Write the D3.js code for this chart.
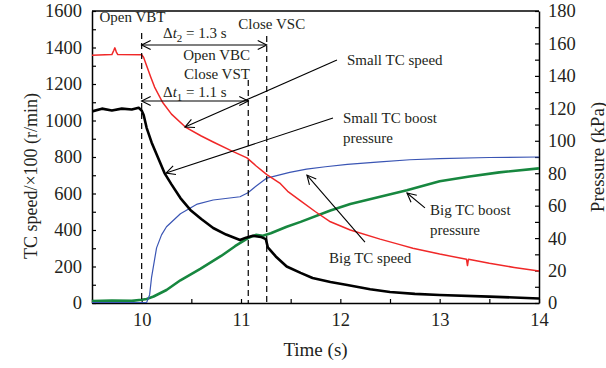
<!DOCTYPE html>
<html><head><meta charset="utf-8">
<script src="https://cdn.jsdelivr.net/npm/d3@7"></script>
<style>
body{margin:0;background:#fff}
svg{display:block}
text{font-family:"Liberation Serif","Times New Roman",serif;fill:#231f20}
</style>
</head><body>
<svg id="c" width="606" height="368"></svg>
<script>
// ---- data ----
const xTickValues = [9.5,10,10.5,11,11.5,12,12.5,13,13.5,14];
const xTickLabels = [10,11,12,13,14];
const leftTickValues = d3.range(0,1601,100);
const leftTickLabels = [0,200,400,600,800,1000,1200,1400,1600];
const rightTickValues = d3.range(0,181,10);
const rightTickLabels = [0,20,40,60,80,100,120,140,160,180];

// red curve (left axis, r/min x100)
const redT = [9.5,9.7,9.72,9.73,9.745,9.76,10.0,10.02,10.05,10.09,10.13,10.21,10.3,10.44,10.6,10.72,10.9,11.06,11.15,11.26,11.39,11.47,11.6,11.75,11.9,12.1,12.4,12.6,12.73,13.0,13.27,13.28,13.29,13.5,13.75,14.0];
const redV = [1358,1361,1385,1398,1375,1361,1360,1345,1300,1240,1183,1100,1035,964,915,882,835,795,752,703,657,612,560,500,445,400,350,320,300,268,240,205,240,218,195,175];

// black curve (left axis)
const blackT = [9.5,9.6,9.7,9.8,9.9,9.97,10.0,10.02,10.05,10.1,10.15,10.23,10.3,10.39,10.49,10.6,10.72,10.85,10.99,11.05,11.12,11.2,11.25,11.27,11.35,11.46,11.6,11.72,11.9,12.07,12.3,12.5,12.75,13.0,13.5,14.0];
const blackV = [1050,1065,1055,1065,1060,1070,1055,1030,960,880,815,712,650,575,510,460,411,375,345,358,368,362,350,305,255,200,165,137,115,99,75,60,50,44,35,25];

// blue curve (right axis, kPa)
const blueT = [9.5,10.05,10.08,10.1,10.15,10.2,10.25,10.39,10.56,10.72,10.99,11.07,11.15,11.26,11.39,11.49,11.66,11.85,12.07,12.4,12.7,13.0,13.5,14.0];
const blueV = [0.3,0.3,5,16,34,42,47,55,61,63.5,65.5,68,72,77,79,80.5,82.5,84,85.5,87,88.3,89,89.7,90];

// green curve (right axis, kPa)
const greenT = [9.5,9.7,9.9,10.0,10.05,10.12,10.25,10.39,10.59,10.8,10.94,11.07,11.15,11.22,11.3,11.46,11.6,11.9,12.1,12.4,12.67,13.0,13.3,13.6,14.0];
const greenV = [1.2,1.5,1.3,2,2.5,4,8,14,21,29,35,40,42,41.5,43,47,50,57,61,65.5,69.5,75,78,80.5,83];

// event times
const tOpen = 10.0, tVST = 11.073, tVSC = 11.259;

// ---- drawing ----
const svg = d3.select("#c");
const L = 92, R = 539, T = 11, B = 303;
const x = d3.scaleLinear().domain([9.5,14]).range([L,R]);
const yL = d3.scaleLinear().domain([0,1600]).range([B,T]);
const yR = d3.scaleLinear().domain([0,180]).range([B,T]);

const defs = svg.append("defs");
defs.append("marker").attr("id","ah").attr("viewBox","-10 -6 12 12")
  .attr("refX",0).attr("refY",0).attr("markerWidth",12).attr("markerHeight",12)
  .attr("markerUnits","userSpaceOnUse").attr("orient","auto-start-reverse")
  .append("path").attr("d","M-9,-4.5 L0,0 L-9,4.5").attr("fill","none").attr("stroke","#000").attr("stroke-width",1.1);
defs.append("clipPath").attr("id","clip").append("rect").attr("x",L).attr("y",T).attr("width",R-L).attr("height",B-T);

const FS = 18.5;
function styleAxis(g){
  g.selectAll("text").style("font-size",FS+"px").attr("fill","#231f20");
  g.selectAll("line").attr("stroke","#000").attr("stroke-width",1.2);
  g.select(".domain").attr("stroke","#000").attr("stroke-width",1.5);
}
const gx = svg.append("g").attr("transform",`translate(0,${B})`)
  .call(d3.axisBottom(x).tickValues(xTickValues).tickSizeInner(-4).tickSizeOuter(0).tickPadding(10)
    .tickFormat(d=>xTickLabels.includes(d)?d3.format("d")(d):""));
styleAxis(gx);
const gl = svg.append("g").attr("transform",`translate(${L},0)`)
  .call(d3.axisLeft(yL).tickValues(leftTickValues).tickSizeInner(-4).tickSizeOuter(0).tickPadding(10)
    .tickFormat(d=>leftTickLabels.includes(d)?d:""));
styleAxis(gl);
const gr = svg.append("g").attr("transform",`translate(${R},0)`)
  .call(d3.axisRight(yR).tickValues(rightTickValues).tickSizeInner(-4).tickSizeOuter(0).tickPadding(9)
    .tickFormat(d=>rightTickLabels.includes(d)?d:""));
styleAxis(gr);
svg.append("line").attr("x1",L).attr("x2",R).attr("y1",T).attr("y2",T).attr("stroke","#000").attr("stroke-width",1.5);

// axis titles
svg.append("text").attr("transform",`translate(31,176) rotate(-90)`)
  .attr("text-anchor","middle").attr("dominant-baseline","central").style("font-size","18px")
  .text("TC speed/×100 (r/min)");
svg.append("text").attr("transform",`translate(597,157) rotate(-90)`)
  .attr("text-anchor","middle").attr("dominant-baseline","central").style("font-size","19px")
  .text("Pressure (kPa)");
svg.append("text").attr("x",(L+R)/2).attr("y",356).attr("text-anchor","middle").style("font-size","19px")
  .text("Time (s)");

// curves
const plot = svg.append("g").attr("clip-path","url(#clip)");
function curve(ts, vs, ys, color, w){
  const pts = ts.map((t,i)=>[t,vs[i]]);
  plot.append("path").datum(pts)
    .attr("d", d3.line().x(d=>x(d[0])).y(d=>ys(d[1])))
    .attr("fill","none").attr("stroke",color).attr("stroke-width",w).attr("stroke-linejoin","round");
}
curve(greenT, greenV, yR, "#17873f", 2.6);
curve(blueT, blueV, yR, "#3a55b4", 1.2);
curve(redT, redV, yL, "#f02828", 1.5);
curve(blackT, blackV, yL, "#000", 2.6);

// dashed event lines
function vdash(t, vTop){
  svg.append("line").attr("x1",x(t)).attr("x2",x(t)).attr("y1",yL(vTop)).attr("y2",B)
    .attr("stroke","#000").attr("stroke-width",1.2).attr("stroke-dasharray","6,4");
}
vdash(tOpen, 1480); vdash(tVST, 1222); vdash(tVSC, 1463);

function arrow(t1,v1,t2,v2,both){
  const l = svg.append("line").attr("x1",x(t1)).attr("y1",yL(v1)).attr("x2",x(t2)).attr("y2",yL(v2))
    .attr("stroke","#000").attr("stroke-width",1.1).attr("marker-end","url(#ah)");
  if(both) l.attr("marker-start","url(#ah)");
}
function label(t,v,str,size){
  return svg.append("text").attr("x",x(t)).attr("y",yL(v)).style("font-size",(size||15)+"px").text(str);
}
function dtLabel(t,v,sub,val){
  const tx = svg.append("text").attr("x",x(t)).attr("y",yL(v)).style("font-size","15px");
  tx.append("tspan").text("Δ");
  tx.append("tspan").style("font-style","italic").text("t");
  tx.append("tspan").attr("dy",4).style("font-size","11px").text(sub);
  tx.append("tspan").attr("dy",-4).text(" = " + val + " s");
}

// top annotations
label(9.575,1540,"Open VBT");
label(10.973,1501,"Close VSC");
dtLabel(10.215,1452,"2","1.3");
arrow(tOpen,1414,tVSC,1414,true);
label(10.419,1332,"Open VBC");
label(10.426,1227,"Close VST");
dtLabel(10.215,1129,"1","1.1");
arrow(tOpen,1107,tVST,1107,true);

// curve annotations
label(12.067,1304,"Small TC speed");
arrow(11.966,1332,10.436,964);
label(12.027,986,"Small TC boost");
label(12.027,877,"pressure");
arrow(11.926,1014,10.245,712);
label(11.886,219,"Big TC speed");
arrow(12.248,334,11.664,701);
label(12.903,482,"Big TC boost");
label(12.903,373,"pressure");
arrow(12.852,521,12.671,603);
</script>
</body></html>
